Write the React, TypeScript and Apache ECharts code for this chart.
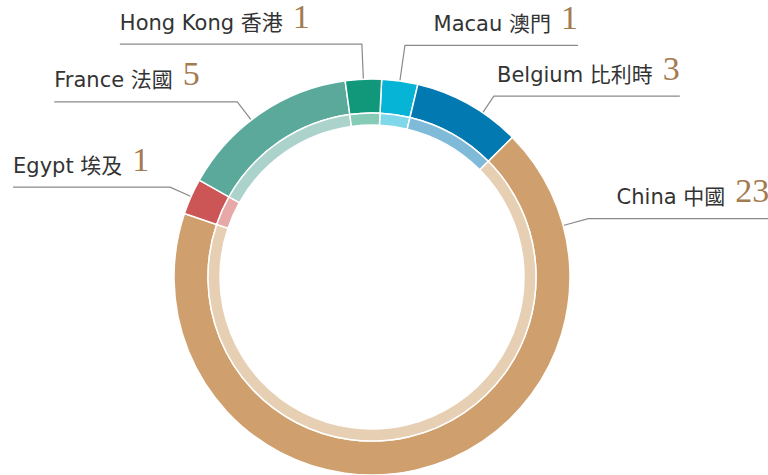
import React, { useEffect, useRef } from 'react';
import * as echarts from 'echarts';

const NAMES_EN = ['Macau', 'Belgium', 'China', 'Egypt', 'France', 'Hong Kong'];
const NAMES_ZH = ['澳門', '比利時', '中國', '埃及', '法國', '香港'];
const VALUES = [1, 3, 23, 1, 5, 1];
const COLORS = ['#06b4d5', '#0279b1', '#cfa06d', '#cc5555', '#5aa99b', '#11987a'];
const LIGHT_COLORS = ['#7fd8ea', '#7fbad8', '#e7cfb4', '#e6a9a8', '#abd3cc', '#86cbb6'];

const CX = 372;
const CY = 277;
const R_OUT = 198;
const R_MID = 164;
const R_IN = 152;
const START_ANGLE = 87.2;
// leader-line layout per slice: angular nudge of the anchor (deg), radial length, horizontal length
const GUIDE_SHIFT = [0, 4.7, -92, 0, -3.3, 0];
const GUIDE_LEN = [36, 20, 26, 23, 23, 35];
const GUIDE_H = [173, 186, 181, 157, 183, 242];

const TOTAL = VALUES.reduce((a, b) => a + b, 0);
function midAngleDeg(i: number): number {
  let cum = 0;
  for (let j = 0; j < i; j++) cum += VALUES[j];
  return (90 - START_ANGLE) + ((cum + VALUES[i] / 2) / TOTAL) * 360;
}

export default function App() {
  const ref = useRef<HTMLDivElement>(null);
  useEffect(() => {
    if (!ref.current) return;
    const chart = echarts.init(ref.current, undefined, { renderer: 'svg' });
    const outerData = VALUES.map((v, i) => ({
      value: v,
      name: NAMES_EN[i],
      itemStyle: { color: COLORS[i] },
    }));
    const innerData = VALUES.map((v, i) => ({
      value: v,
      name: NAMES_EN[i],
      itemStyle: { color: LIGHT_COLORS[i] },
    }));
    chart.setOption({
      animation: false,
      backgroundColor: '#ffffff',
      series: [
        {
          type: 'pie',
          center: [CX, CY],
          radius: [R_MID, R_OUT],
          startAngle: START_ANGLE,
          clockwise: true,
          avoidLabelOverlap: false,
          silent: true,
          itemStyle: { borderColor: '#ffffff', borderWidth: 1.5 },
          label: {
            show: true,
            position: 'outside',
            formatter: (p: any) =>
              `{n|${NAMES_EN[p.dataIndex]} ${NAMES_ZH[p.dataIndex]}}{v|${VALUES[p.dataIndex]}}`,
            rich: {
              n: {
                fontFamily: "'DejaVu Sans', 'Noto Sans CJK TC', sans-serif",
                fontSize: 21,
                lineHeight: 21,
                color: '#333333',
                verticalAlign: 'bottom',
              },
              v: {
                fontFamily: "'Liberation Serif', serif",
                fontSize: 34,
                lineHeight: 30,
                color: '#a47a50',
                verticalAlign: 'bottom',
                padding: [0, 0, 0, 10],
              },
            },
          },
          labelLine: {
            show: true,
            length: 20,
            length2: 20,
            lineStyle: { color: '#8a8a8a', width: 1.2 },
          },
          labelLayout: (params: any) => {
            const i = params.dataIndex;
            const th = ((midAngleDeg(i) + GUIDE_SHIFT[i]) * Math.PI) / 180;
            const sx = CX + R_OUT * Math.sin(th);
            const sy = CY - R_OUT * Math.cos(th);
            const bx = CX + (R_OUT + GUIDE_LEN[i]) * Math.sin(th);
            const by = CY - (R_OUT + GUIDE_LEN[i]) * Math.cos(th);
            const right = Math.sin(th) >= 0;
            const ex = bx + (right ? GUIDE_H[i] : -GUIDE_H[i]);
            return {
              x: ex,
              y: by - 11,
              align: right ? 'right' : 'left',
              verticalAlign: 'bottom',
              labelLinePoints: [
                [sx, sy],
                [bx, by],
                [ex, by],
              ],
            };
          },
          data: outerData,
        },
        {
          type: 'pie',
          center: [CX, CY],
          radius: [R_IN, R_MID],
          startAngle: START_ANGLE,
          clockwise: true,
          silent: true,
          itemStyle: { borderColor: '#ffffff', borderWidth: 1.5 },
          label: { show: false },
          labelLine: { show: false },
          data: innerData,
        },
      ],
    });
    return () => chart.dispose();
  }, []);
  return (
    <div
      ref={ref}
      style={{ position: 'fixed', left: 0, top: 0, width: 768, height: 475 }}
    />
  );
}
